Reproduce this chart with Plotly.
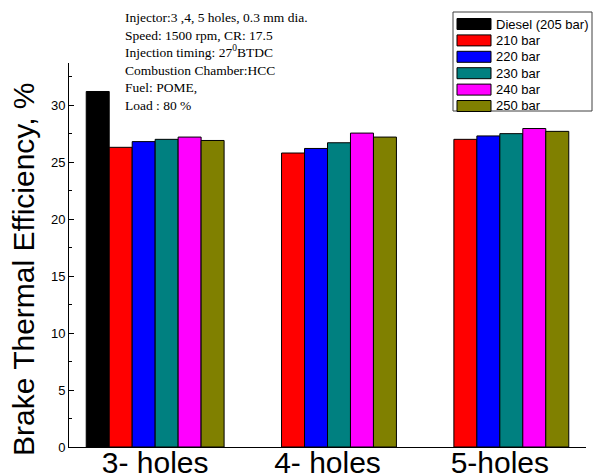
import plotly.graph_objects as go

categories = ["3- holes", "4- holes", "5-holes"]
series_names = ["Diesel (205 bar)", "210 bar", "220 bar", "230 bar", "240 bar", "250 bar"]
diesel = [31.2, None, None]
bar210 = [26.3, 25.8, 27.0]
bar220 = [26.8, 26.2, 27.3]
bar230 = [27.0, 26.7, 27.5]
bar240 = [27.2, 27.55, 27.95]
bar250 = [26.9, 27.2, 27.7]
colors = ["#000000", "#FF0000", "#0000FF", "#008080", "#FF00FF", "#808000"]
y_ticks = [0, 5, 10, 15, 20, 25, 30]

fig = go.Figure()
for name, vals, col in zip(series_names, [diesel, bar210, bar220, bar230, bar240, bar250], colors):
    fig.add_trace(go.Bar(x=categories, y=vals, name=name, showlegend=False,
                         marker=dict(color=col, line=dict(color="#000000", width=1))))

# page is offset by the default 8px body margin
OFF = 8
W, H = 601 - OFF, 475 - OFF
PL, PR, PT, PB = 69, 586, 63, 447   # plot area in page pixels
L, R, T, B = PL - OFF, 601 - PR, PT - OFF, 475 - PB
pw, ph = W - L - R, H - T - B

def px_x(p):   # page pixel -> paper
    return (p - OFF - L) / pw

def px_y(p):
    return (H - B - (p - OFF)) / ph

fig.update_layout(
    width=W, height=H,
    margin=dict(l=L, r=R, t=T, b=B, autoexpand=False),
    paper_bgcolor="white", plot_bgcolor="white",
    barmode="group", bargap=0.2, bargroupgap=0,
    font=dict(family="Arial, Liberation Sans, sans-serif", color="#000000"),
    showlegend=False,
    xaxis=dict(range=[-0.5, 2.5], showline=True, linecolor="#000000", linewidth=1,
               ticks="", showgrid=False, zeroline=False, automargin=False,
               ticklabelstandoff=-11,
               tickfont=dict(size=30, family="Arial, Liberation Sans, sans-serif")),
    yaxis=dict(range=[0, 33.7], showline=True, linecolor="#000000", linewidth=1,
               tickvals=y_ticks, ticks="inside", ticklen=5, tickcolor="#000000",
               minor=dict(ticks="inside", ticklen=3, dtick=2.5, tick0=0, tickcolor="#000000"),
               showgrid=False, zeroline=False, automargin=False,
               tickfont=dict(size=13, family="Arial, Liberation Sans, sans-serif")),
)

# legend box (drawn as shapes + text, to match the compact original legend)
LEG_L, LEG_R, LEG_T, LEG_B = 453, 592, 12, 111
ROW0, ROW_STEP, SW_L, SW_R, SW_H, TXT_X = 24, 16.4, 457, 491, 11, 495
fig.add_shape(type="rect", xref="paper", yref="paper",
              x0=px_x(LEG_L), x1=px_x(LEG_R), y0=px_y(LEG_B), y1=px_y(LEG_T),
              line=dict(color="#404040", width=1), fillcolor="white", layer="above")
for i, (name, col) in enumerate(zip(series_names, colors)):
    cy = ROW0 + i * ROW_STEP
    fig.add_shape(type="rect", xref="paper", yref="paper",
                  x0=px_x(SW_L), x1=px_x(SW_R), y0=px_y(cy + SW_H / 2), y1=px_y(cy - SW_H / 2),
                  line=dict(color="#000000", width=1), fillcolor=col, layer="above")
    fig.add_annotation(text=name, xref="paper", yref="paper",
                       x=px_x(TXT_X), y=px_y(cy), xanchor="left", yanchor="middle",
                       showarrow=False, borderpad=0,
                       font=dict(size=13, family="Arial, Liberation Sans, sans-serif", color="#000000"))

fig.add_annotation(
    text="Brake Thermal Efficiency, %", textangle=-90,
    xref="paper", yref="paper", x=px_x(23), y=px_y(270),
    xanchor="center", yanchor="middle", showarrow=False,
    font=dict(size=30, family="Arial, Liberation Sans, sans-serif", color="#000000"))

info_lines = [
    "Injector:3 ,4, 5 holes, 0.3 mm dia.",
    "Speed: 1500 rpm, CR: 17.5",
    "Injection timing: 27<sup>0</sup>BTDC",
    "Combustion Chamber:HCC",
    "Fuel: POME,",
    "Load : 80 %",
]
fig.add_annotation(
    text="<br>".join(info_lines), align="left",
    xref="paper", yref="paper", x=px_x(123), y=px_y(8),
    xanchor="left", yanchor="top", showarrow=False,
    font=dict(size=13.5, family="Liberation Serif, Times New Roman, serif", color="#000000"))

fig.write_html("out.html")
